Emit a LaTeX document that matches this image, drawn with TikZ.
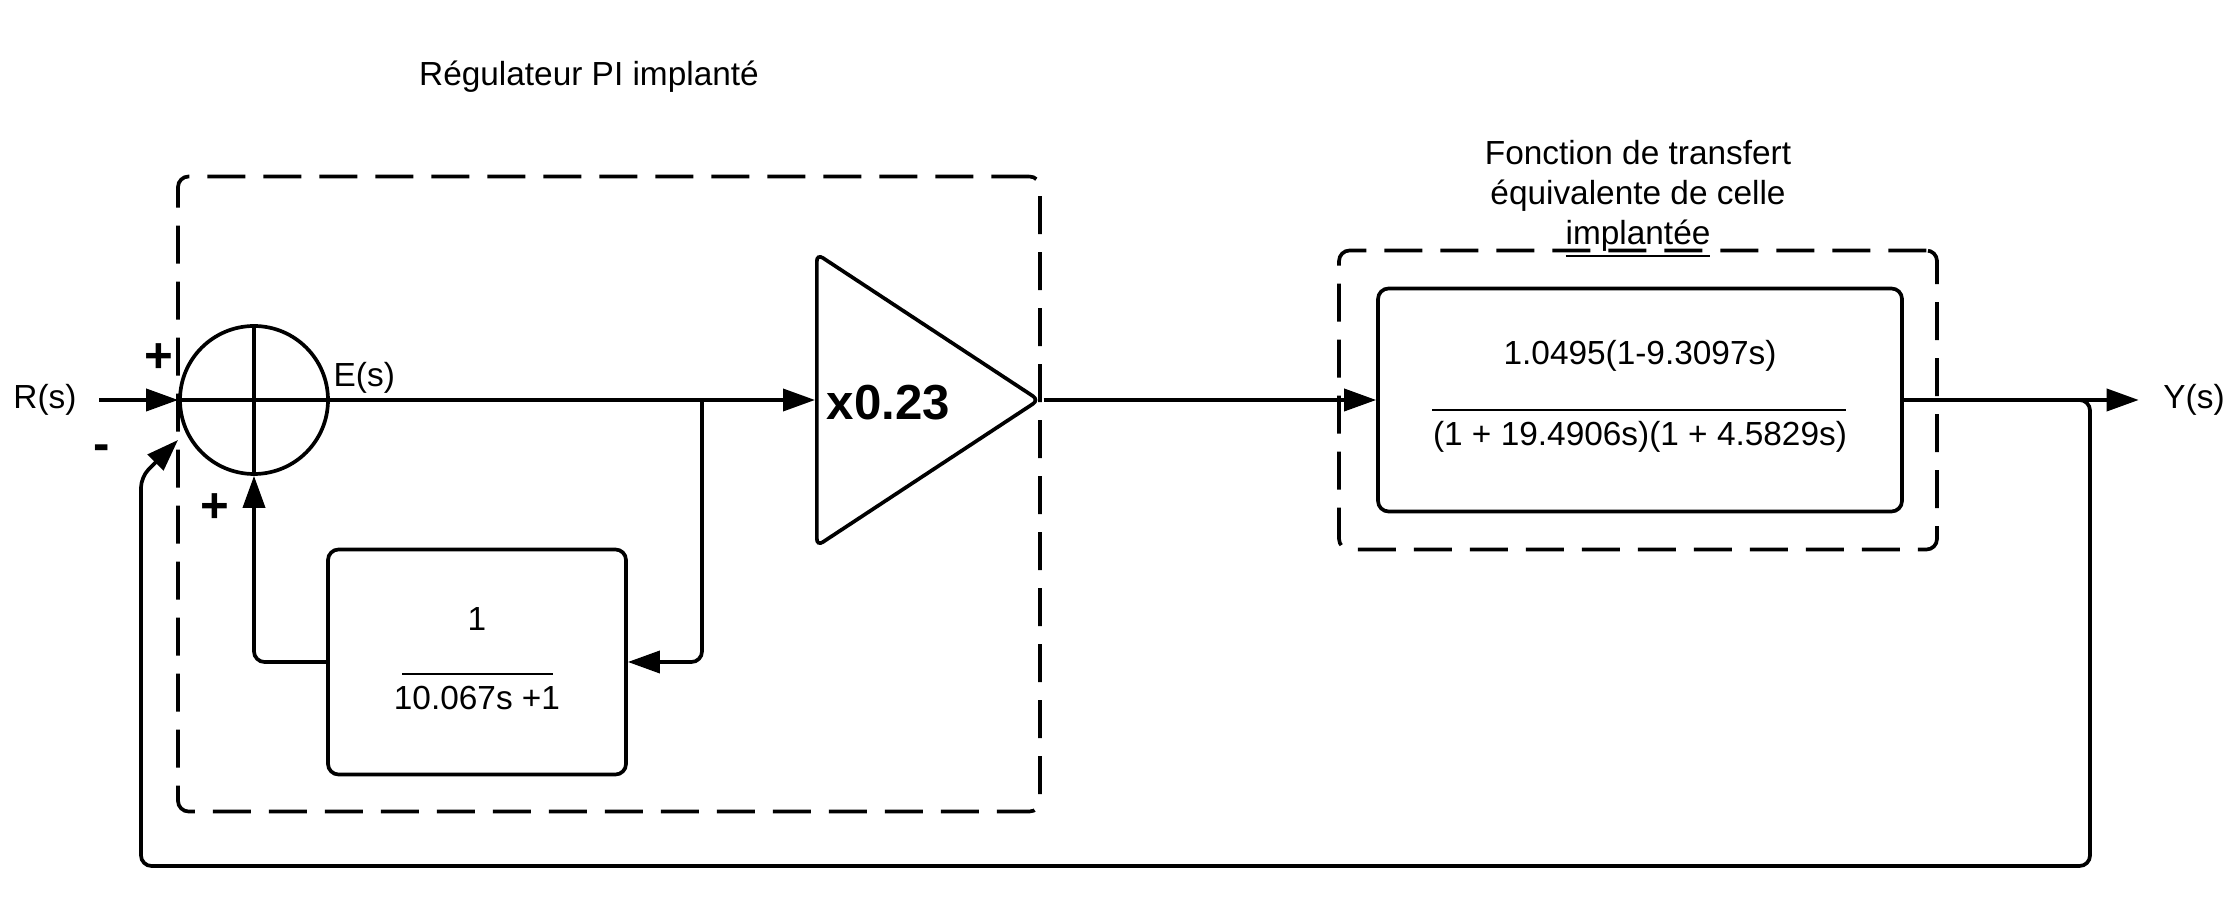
\documentclass[tikz,border=0pt]{standalone}
\usepackage{fontspec}
\setmainfont{Liberation Sans}
\usepackage{tikz}
\usetikzlibrary{arrows.meta,positioning,shapes.geometric}
\tikzset{
  block/.style={
    draw,
    rounded corners=3pt,
    line width=1.05pt,
    inner sep=0pt
  },
  frame/.style={
    draw,
    rounded corners=3pt,
    line width=1.05pt,
    dash pattern=on 0.38cm off 0.18cm,
    inner sep=0pt
  },
  sumjunction/.style={
    draw,
    circle,
    line width=1.05pt,
    minimum size=1.48cm,
    inner sep=0pt
  },
  gain/.style={
    draw,
    isosceles triangle,
    isosceles triangle stretches,
    shape border rotate=0,
    rounded corners=2pt,
    line width=1.05pt,
    minimum width=2.92cm,
    minimum height=2.22cm,
    inner sep=0pt
  },
  flow/.style={
    -{Triangle[length=3.2mm,width=2.2mm]},
    line width=1.05pt
  },
  wire/.style={line width=1.05pt},
  fracbar/.style={line width=0.6pt},
  sign/.style={font=\fontsize{14}{14}\selectfont\bfseries, inner sep=0pt},
  txt/.style={font=\fontsize{9.5}{11.4}\selectfont, inner sep=0pt, align=center}
}

\begin{document}
\begin{tikzpicture}[x=0.1mm, y=-0.1mm]
    \useasboundingbox (0,0) rectangle (2227,898);
    % dashed groups
    \node[frame, minimum width=8.62cm, minimum height=6.35cm] (pibox) at (609,494) {};
    \node[frame, minimum width=5.98cm, minimum height=2.99cm] (plantbox) at (1638,400) {};
    \node[txt] (pititle) at (589,77) {Régulateur PI implanté};
    \node[txt] (planttitle) at (1638,199) {Fonction de transfert\\équivalente de celle\\\underline{implantée}};
    % blocks
    \node[sumjunction] (sum) at (254,400) {};
    \draw[wire] (sum.north) -- (sum.south) (sum.west) -- (sum.east);
    \node[gain, anchor=west] (amp) at (815,400) {};
    \node[txt, font=\fontsize{14}{14}\selectfont\bfseries, anchor=west] (gainval) at (826,403) {x0.23};
    \node[block, minimum width=2.98cm, minimum height=2.25cm] (fb) at (477,662) {};
    \node[txt] (fbnum) at (477,619) {1};
    \draw[fracbar] (402,674) -- (553,674);
    \node[txt] (fbden) at (477,698) {10.067s +1};
    \node[block, minimum width=5.24cm, minimum height=2.23cm] (plant) at (1640,400) {};
    \node[txt] (plantnum) at (1640,356) {1.0495(1-9.3097s)};
    \draw[fracbar] (1432,410) -- (1846,410);
    \node[txt] (plantden) at (1640,437) {(1 + 19.4906s)(1 + 4.5829s)};
    % signals and signs
    \node[txt] (R) at (45,400) {R(s)};
    \node[txt] (Y) at (2194,400) {Y(s)};
    \node[txt, anchor=south west] (E) at (333,394) {E(s)};
    \node[sign] (plusr) at (159,358) {+};
    \node[sign] (minusfb) at (102,453) {-};
    \node[sign] (plusfb) at (215,508) {+};
    % connectors
    \coordinate (branch) at (702,400);
    \coordinate (tap) at (2060,400);
    \coordinate (minusin) at (178,440);
    \draw[flow] ([xshift=0.22cm]R.east) -- (sum.west);
    \draw[flow] (sum.east) -- (amp.west);
    \draw[flow, rounded corners=3pt] (branch) |- (fb.east);
    \draw[flow, rounded corners=3pt] (fb.west) -| (sum.south);
    \draw[flow] (amp.east) -- (plant.west);
    \draw[flow] (plant.east) -- ([xshift=-0.24cm]Y.west);
    \draw[flow, rounded corners=3pt] (tap) -- (2090,400) -- (2090,866) -- (141,866) -- (141,477) -- (minusin);
\end{tikzpicture}
\end{document}
